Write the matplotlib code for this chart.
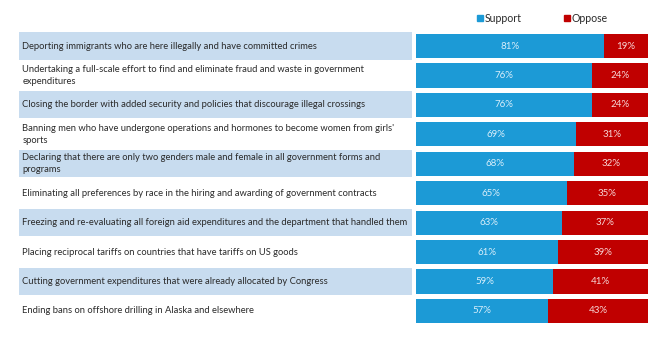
import numpy as np
import matplotlib.pyplot as plt
from matplotlib.patches import Rectangle

plt.rcParams['font.family'] = ['Lato', 'DejaVu Sans']

# Poll items, top to bottom
policies = [
    "Deporting immigrants who are here illegally and have committed crimes",
    "Undertaking a full-scale effort to find and eliminate fraud and waste in government\nexpenditures",
    "Closing the border with added security and policies that discourage illegal crossings",
    "Banning men who have undergone operations and hormones to become women from girls'\nsports",
    "Declaring that there are only two genders male and female in all government forms and\nprograms",
    "Eliminating all preferences by race in the hiring and awarding of government contracts",
    "Freezing and re-evaluating all foreign aid expenditures and the department that handled them",
    "Placing reciprocal tariffs on countries that have tariffs on US goods",
    "Cutting government expenditures that were already allocated by Congress",
    "Ending bans on offshore drilling in Alaska and elsewhere",
]
support = [81, 76, 76, 69, 68, 65, 63, 61, 59, 57]
oppose = [19, 24, 24, 31, 32, 35, 37, 39, 41, 43]

blue = '#1c9ad6'
red = '#c00000'
shade = '#c8dcef'
text_color = '#2a2a2a'

fig = plt.figure(figsize=(6.7, 3.44), dpi=100)
ax_lab = fig.add_axes([0.0284, 0.0532, 0.5866, 0.8558])
ax = fig.add_axes([0.6209, 0.0532, 0.3463, 0.8558], sharey=ax_lab)

y = np.arange(len(policies))

#%% Label column with alternating shading
for i, label in enumerate(policies):
    if i % 2 == 0:
        ax_lab.axhspan(i - 0.46, i + 0.46, color=shade, lw=0)
    ax_lab.text(0.008, i, label, ha='left', va='center', fontsize=6.75,
                color=text_color, linespacing=1.4, transform=ax_lab.get_yaxis_transform())
ax_lab.set_xlim(0, 1)
ax_lab.axis('off')

#%% Stacked bars
ax.barh(y, support, height=0.82, color=blue, lw=0)
ax.barh(y, oppose, left=support, height=0.82, color=red, lw=0)
for i in range(len(policies)):
    ax.text(support[i] / 2, i, f"{support[i]}%", ha='center', va='center',
            fontsize=7, color='#d8eefa')
    ax.text(support[i] + oppose[i] / 2, i, f"{oppose[i]}%", ha='center', va='center',
            fontsize=7, color='#f6d6d6')
ax.set_xlim(0, 100)
ax.set_ylim(len(policies) - 0.5, -0.5)
ax.axis('off')

#%% Legend
fig.patches.append(Rectangle((477 / 670, 1 - 21 / 344), 6 / 670, 6 / 344,
                             transform=fig.transFigure, color=blue, figure=fig))
fig.text(485 / 670, 1 - 18 / 344, "Support", fontsize=7.6, color=text_color, va='center')
fig.patches.append(Rectangle((564 / 670, 1 - 21 / 344), 6 / 670, 6 / 344,
                             transform=fig.transFigure, color=red, figure=fig))
fig.text(572 / 670, 1 - 18 / 344, "Oppose", fontsize=7.6, color=text_color, va='center')

fig.savefig('out.png', dpi=100)
